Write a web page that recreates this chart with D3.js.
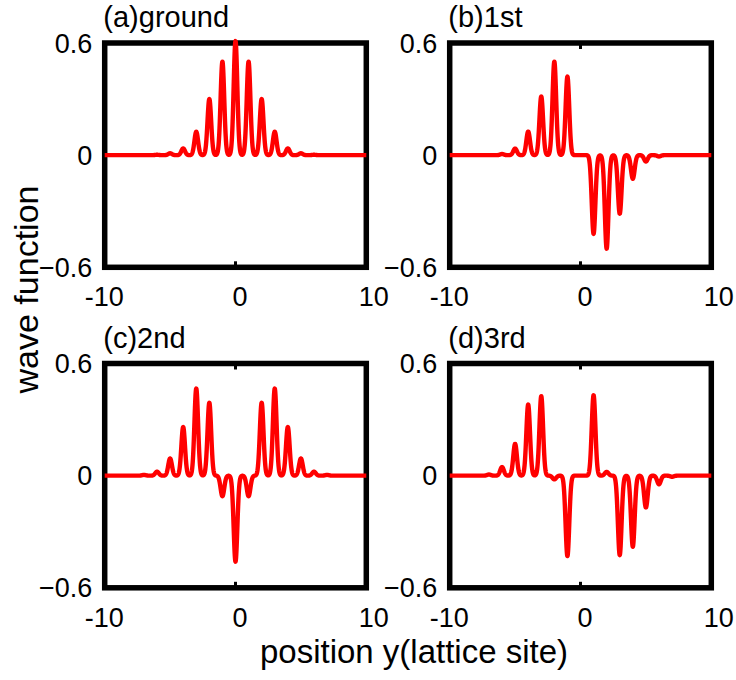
<!DOCTYPE html>
<html><head><meta charset="utf-8">
<script src="https://cdn.jsdelivr.net/npm/d3@7"></script>
<style>
html,body{margin:0;padding:0;background:#fff;}
text{font-family:"Liberation Sans",Arial,sans-serif;fill:#000;}
</style></head>
<body>
<svg id="chart" width="736" height="680"></svg>
<script>
// ---- data (amplitude of the wave function at each lattice site) ----
const sites = [-7,-6,-5,-4,-3,-2,-1,0,1,2,3,4,5,6,7];
const groundAmp = [0.0,0.002,0.01,0.036,0.125,0.30,0.50,0.61,0.50,0.30,0.125,0.036,0.01,0.002,0.0];
const firstAmp  = [0.0,0.006,0.035,0.126,0.314,0.50,0.42,0.0,-0.421,-0.50,-0.313,-0.126,-0.034,-0.007,0.0];
const secondAmp = [0.004,0.021,0.092,0.26,0.466,0.39,-0.11,-0.46,-0.11,0.39,0.466,0.26,0.092,0.021,0.004];
const thirdAmp  = [0.006,0.046,0.17,0.38,0.425,-0.02,-0.43,0.0,0.43,0.02,-0.425,-0.38,-0.17,-0.046,-0.006];
const panelTitles = ["(a)ground","(b)1st","(c)2nd","(d)3rd"];
const xTicks = [-10,0,10];
const yTicks = [0.6,0,-0.6];
const xLabel = "position y(lattice site)";
const yLabel = "wave function";

// ---- layout ----
const svg = d3.select("#chart");
const W = 261.6, H = 224.3;
const lefts = [104.7,449.7,104.7,449.7];
const tops = [43,43,363.5,363.5];
const seriesList = [groundAmp, firstAmp, secondAmp, thirdAmp];
const sigma = 0.14; // width of the orbital at each site
const xTickOffset = [-0.5,4.5,7.5];

seriesList.forEach((amp, i) => {
  const g = svg.append("g").attr("transform", `translate(${lefts[i]},${tops[i]})`);
  const x = d3.scaleLinear().domain([-10,10]).range([0,W]);
  const y = d3.scaleLinear().domain([-0.6,0.6]).range([H,0]);

  // sampled wave function built from per-site orbitals
  const xs = d3.range(-10, 10.0001, 0.01);
  const pts = xs.map(xv => {
    let v = 0;
    sites.forEach((s, k) => { v += amp[k] * Math.exp(-((xv - s) ** 2) / (2 * sigma * sigma)); });
    return [xv, v];
  });

  // frame
  g.append("rect").attr("x",0).attr("y",0).attr("width",W).attr("height",H)
    .attr("fill","none").attr("stroke","#000").attr("stroke-width",5.5);

  // ticks at x=0 (inward, top & bottom)
  g.append("line").attr("x1",x(0)).attr("x2",x(0)).attr("y1",H).attr("y2",H-6)
    .attr("stroke","#000").attr("stroke-width",3);
  g.append("line").attr("x1",x(0)).attr("x2",x(0)).attr("y1",0).attr("y2",6)
    .attr("stroke","#000").attr("stroke-width",3);

  // curve
  g.append("path").datum(pts)
    .attr("d", d3.line().x(d => x(d[0])).y(d => y(d[1])))
    .attr("fill","none").attr("stroke","#ff0000").attr("stroke-width",4.4)
    .attr("stroke-linejoin","round");

  // y tick labels
  g.selectAll(".yt").data(yTicks).enter().append("text")
    .attr("x",-12.5).attr("y",d => y(d) + 9.5)
    .attr("text-anchor","end").attr("font-size",27)
    .text(d => d === 0 ? "0" : d3.format(".1f")(d));

  // x tick labels
  g.selectAll(".xt").data(xTicks).enter().append("text")
    .attr("x",(d,k) => x(d) + xTickOffset[k]).attr("y",H + 39)
    .attr("text-anchor","middle").attr("font-size",27)
    .text(d => d);

  // panel title
  g.append("text").attr("x",-1.4).attr("y",-16).attr("font-size",29)
    .text(panelTitles[i]);
});

svg.append("text").attr("x",414).attr("y",663).attr("text-anchor","middle")
  .attr("font-size",33).text(xLabel);
svg.append("text").attr("transform","translate(38,289.5) rotate(-90)")
  .attr("text-anchor","middle").attr("font-size",34).text(yLabel);
</script>
</body></html>
